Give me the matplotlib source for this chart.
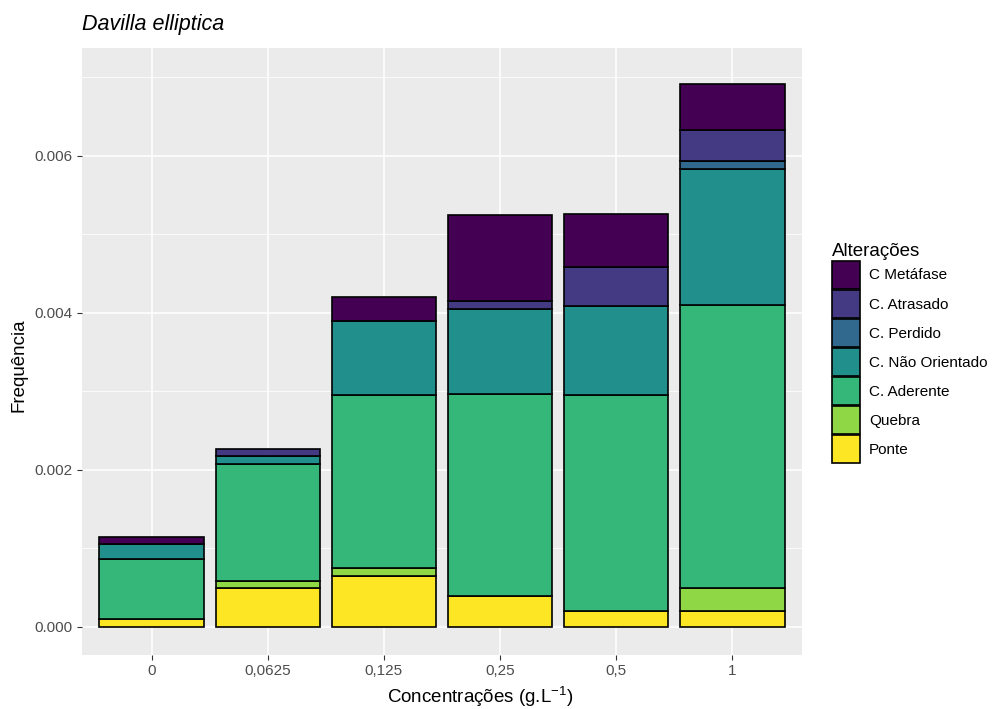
import numpy as np
import matplotlib
matplotlib.use('Agg')
import matplotlib.pyplot as plt
from matplotlib.patches import Patch

plt.rcParams['font.family'] = ['Liberation Sans', 'DejaVu Sans']
plt.rcParams['mathtext.fontset'] = 'custom'
plt.rcParams['mathtext.rm'] = 'Liberation Sans'

# concentrations on the x axis
concentracoes = ["0", "0,0625", "0,125", "0,25", "0,5", "1"]

# frequency of each alteration per concentration (stacked bottom -> top)
ponte = [0.0001, 0.00049, 0.00065, 0.0004, 0.0002, 0.0002]
quebra = [0.0, 0.0001, 0.0001, 0.0, 0.0, 0.0003]
c_aderente = [0.00076, 0.00148, 0.0022, 0.00257, 0.00275, 0.0036]
c_nao_orientado = [0.00019, 0.0001, 0.00095, 0.00108, 0.00114, 0.00173]
c_perdido = [0.0, 0.0, 0.0, 0.0, 0.0, 0.0001]
c_atrasado = [0.0, 0.0001, 0.0, 0.0001, 0.00049, 0.0004]
c_metafase = [0.0001, 0.0, 0.0003, 0.0011, 0.00068, 0.00058]

series = [
    ("Ponte", ponte, "#FDE725"),
    ("Quebra", quebra, "#8FD744"),
    ("C. Aderente", c_aderente, "#35B779"),
    ("C. Não Orientado", c_nao_orientado, "#21908C"),
    ("C. Perdido", c_perdido, "#31688E"),
    ("C. Atrasado", c_atrasado, "#443A83"),
    ("C Metáfase", c_metafase, "#440154"),
]

fig = plt.figure(figsize=(9.92, 7.09), dpi=100)
ax = fig.add_axes([82/992, 1-655/709, 720/992, 607/709])
ax.set_facecolor("#EBEBEB")

x = np.arange(len(concentracoes))
bottom = np.zeros(len(x))
for name, vals, col in series:
    vals = np.array(vals)
    mask = vals > 0
    ax.bar(x[mask], vals[mask], bottom=bottom[mask], width=0.9, color=col,
           edgecolor="black", linewidth=1.2, zorder=3)
    bottom += vals

# grid like ggplot
ax.set_xlim(-0.6, 5.6)
ax.set_ylim(-0.000357, 0.00737)
ax.set_yticks([0, 0.002, 0.004, 0.006])
ax.set_yticklabels(["0.000", "0.002", "0.004", "0.006"])
ax.set_yticks([0.001, 0.003, 0.005, 0.007], minor=True)
ax.set_xticks(x)
ax.set_xticklabels(concentracoes)
ax.grid(which="major", color="white", linewidth=1.1, zorder=0)
ax.grid(which="minor", axis="y", color="white", linewidth=0.55, zorder=0)
ax.set_axisbelow(True)
for s in ax.spines.values():
    s.set_visible(False)
ax.tick_params(which="major", length=3.5, width=0.8, color="#333333",
               labelcolor="#4D4D4D", labelsize=11, pad=3)
ax.tick_params(which="minor", length=0)

ax.set_xlabel(r"Concentrações (g.L$^{\mathregular{-1}}$)", fontsize=13.5)
ax.xaxis.set_label_coords(0.553, -0.048, transform=ax.transAxes)
ax.xaxis.label.set_va("top")
ax.set_ylabel("Frequência", fontsize=13.5)
ax.yaxis.set_label_coords(-0.076, 0.478, transform=ax.transAxes)
ax.set_title("Davilla elliptica", fontsize=15.5, style="italic", loc="left", pad=13)

handles = [Patch(facecolor=col, edgecolor="black", linewidth=1.2, label=name)
           for name, _, col in reversed(series)]
fig.legend(handles=handles, loc="upper left", bbox_to_anchor=(818/992, 1-229/709),
           frameon=False, fontsize=11, title="Alterações", title_fontsize=13.5,
           handlelength=1.83, handleheight=2.44, labelspacing=0.07,
           handletextpad=0.6, alignment="left")

fig.savefig("out.png", dpi=100)
